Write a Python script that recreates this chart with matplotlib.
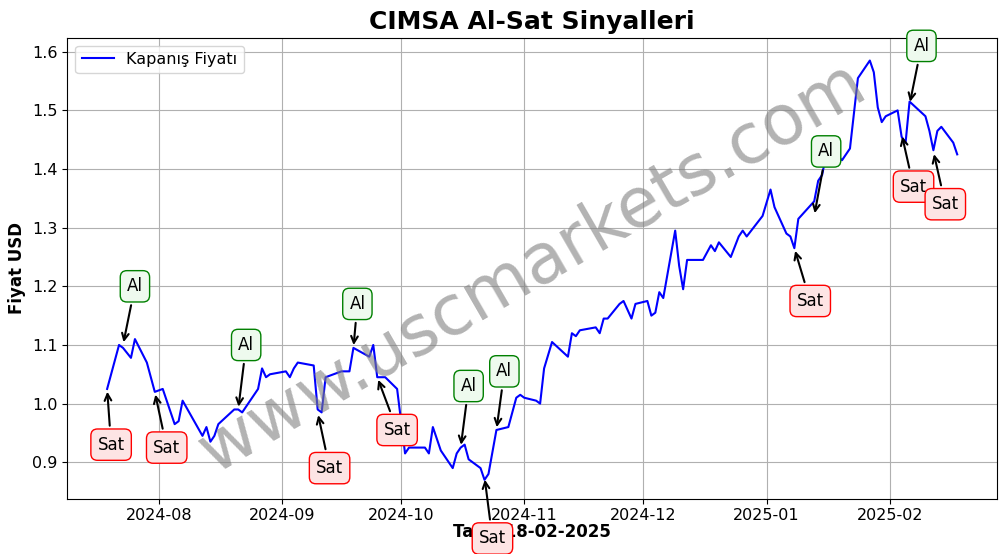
import matplotlib
matplotlib.use("Agg")
import matplotlib.pyplot as plt
import matplotlib.dates as mdates
import pandas as pd

dates = ["2024-07-19","2024-07-22","2024-07-23","2024-07-25","2024-07-26","2024-07-29","2024-07-31",
"2024-08-02","2024-08-05","2024-08-06","2024-08-07","2024-08-12","2024-08-13","2024-08-14","2024-08-15","2024-08-16",
"2024-08-20","2024-08-21","2024-08-22","2024-08-26","2024-08-27","2024-08-28","2024-08-29",
"2024-09-02","2024-09-03","2024-09-04","2024-09-05","2024-09-09","2024-09-10","2024-09-11","2024-09-12","2024-09-16",
"2024-09-18","2024-09-19","2024-09-23","2024-09-24","2024-09-25","2024-09-27","2024-09-30",
"2024-10-01","2024-10-02","2024-10-03","2024-10-07","2024-10-08","2024-10-09","2024-10-11","2024-10-14","2024-10-15",
"2024-10-16","2024-10-17","2024-10-18","2024-10-21","2024-10-22","2024-10-23","2024-10-25","2024-10-28","2024-10-30","2024-10-31",
"2024-11-01","2024-11-04","2024-11-05","2024-11-06","2024-11-08","2024-11-12","2024-11-13","2024-11-14","2024-11-15",
"2024-11-19","2024-11-20","2024-11-21","2024-11-22","2024-11-25","2024-11-26","2024-11-28","2024-11-29",
"2024-12-02","2024-12-03","2024-12-04","2024-12-05","2024-12-06","2024-12-09","2024-12-10","2024-12-11","2024-12-12",
"2024-12-16","2024-12-18","2024-12-19","2024-12-20","2024-12-23","2024-12-25","2024-12-26","2024-12-27","2024-12-31",
"2025-01-02","2025-01-03","2025-01-06","2025-01-07","2025-01-08","2025-01-09","2025-01-13","2025-01-14","2025-01-15",
"2025-01-16","2025-01-17","2025-01-20","2025-01-22","2025-01-24","2025-01-27","2025-01-28","2025-01-29","2025-01-30","2025-01-31",
"2025-02-03","2025-02-04","2025-02-05","2025-02-06","2025-02-10","2025-02-11","2025-02-12","2025-02-13","2025-02-14",
"2025-02-17","2025-02-18"]
prices = [1.025,1.10,1.095,1.078,1.11,1.07,1.02,
1.025,0.965,0.97,1.005,0.945,0.96,0.935,0.945,0.965,
0.99,0.99,0.985,1.025,1.06,1.045,1.05,
1.055,1.045,1.06,1.07,1.065,0.99,0.985,1.045,1.055,
1.055,1.095,1.08,1.10,1.045,1.045,1.025,
0.97,0.915,0.925,0.925,0.915,0.96,0.92,0.89,0.915,
0.925,0.93,0.905,0.89,0.87,0.88,0.955,0.96,1.01,1.015,
1.01,1.005,1.0,1.06,1.105,1.08,1.12,1.115,1.125,
1.13,1.12,1.145,1.145,1.17,1.175,1.145,1.17,
1.175,1.15,1.155,1.19,1.18,1.295,1.235,1.195,1.245,
1.245,1.27,1.26,1.275,1.25,1.285,1.295,1.285,1.32,
1.365,1.335,1.29,1.285,1.265,1.315,1.345,1.38,1.39,
1.425,1.435,1.415,1.435,1.555,1.585,1.565,1.505,1.48,1.49,
1.50,1.455,1.445,1.515,1.49,1.465,1.432,1.465,1.472,
1.445,1.425]

al_pts = [("2024-07-23",1.10,"2024-07-26",1.20),("2024-08-21",0.99,"2024-08-23",1.10),
          ("2024-09-19",1.095,"2024-09-20",1.17),("2024-10-16",0.925,"2024-10-18",1.03),
          ("2024-10-25",0.955,"2024-10-27",1.055),("2025-01-13",1.32,"2025-01-16",1.43),
          ("2025-02-06",1.51,"2025-02-09",1.61)]
sat_pts = [("2024-07-19",1.025,"2024-07-20",0.93),("2024-07-31",1.02,"2024-08-03",0.925),
           ("2024-09-10",0.985,"2024-09-13",0.89),("2024-09-25",1.045,"2024-09-30",0.955),
           ("2024-10-22",0.875,"2024-10-24",0.77),("2025-01-08",1.265,"2025-01-12",1.175),
           ("2025-02-04",1.46,"2025-02-07",1.37),("2025-02-12",1.43,"2025-02-15",1.34)]

d = pd.to_datetime(dates)
fig, ax = plt.subplots(figsize=(10.06,5.54), dpi=100)
fig.subplots_adjust(left=0.067, right=0.991, top=0.932, bottom=0.1)
ax.plot(d, prices, color="blue", lw=1.5, label="Kapanış Fiyatı")
for xd, yv, tx, ty in al_pts:
    ax.annotate("Al", xy=(pd.Timestamp(xd), yv), xytext=(pd.Timestamp(tx), ty), fontsize=12,
                ha="center", va="center", annotation_clip=False,
                bbox=dict(boxstyle="round,pad=0.4", fc="#eefaee", ec="green"),
                arrowprops=dict(arrowstyle="->", color="black", lw=1.5))
for xd, yv, tx, ty in sat_pts:
    ax.annotate("Sat", xy=(pd.Timestamp(xd), yv), xytext=(pd.Timestamp(tx), ty), fontsize=12,
                ha="center", va="center", annotation_clip=False,
                bbox=dict(boxstyle="round,pad=0.4", fc="#fde4e4", ec="red"),
                arrowprops=dict(arrowstyle="->", color="black", lw=1.5))
ax.text(0.5, 0.5, "www.uscmarkets.com", transform=ax.transAxes, fontsize=50, color="gray",
        alpha=0.6, rotation=30, ha="center", va="center")
ax.set_xlim(pd.Timestamp("2024-07-09"), pd.Timestamp("2025-02-28"))
ax.set_ylim(0.838, 1.624)
ax.xaxis.set_major_locator(mdates.MonthLocator())
ax.xaxis.set_major_formatter(mdates.DateFormatter("%Y-%m"))
ax.grid(True)
ax.tick_params(labelsize=11.5)
ax.set_title("CIMSA Al-Sat Sinyalleri", fontsize=18, fontweight="bold")
ax.set_xlabel("Tarih 18-02-2025", fontsize=12, fontweight="bold", labelpad=0)
ax.set_ylabel("Fiyat USD", fontsize=12, fontweight="bold")
ax.legend(loc="upper left", fontsize=11.5)
fig.savefig("out.png", dpi=100)
